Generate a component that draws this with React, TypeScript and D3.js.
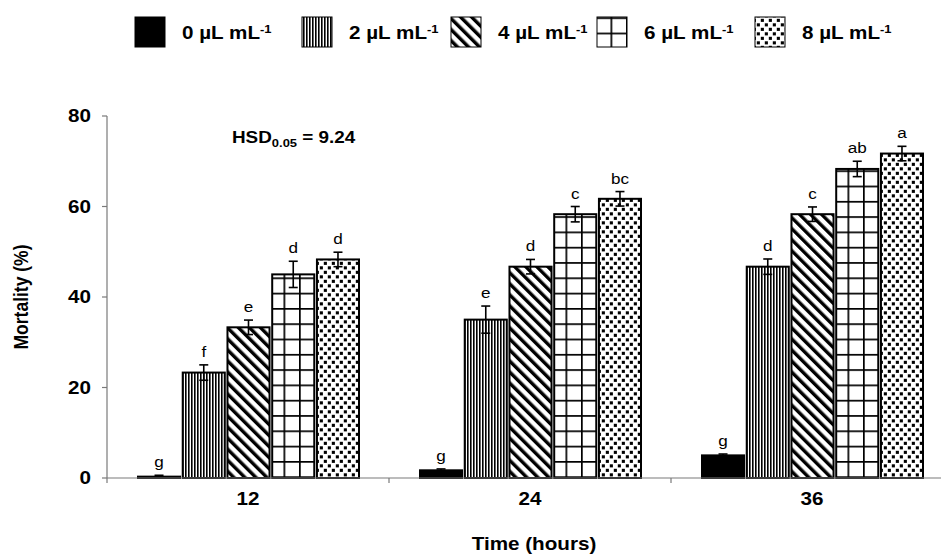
import React from "react"
import * as d3 from "d3"

// data
const groups = ["12", "24", "36"]
const series = ["0", "2", "4", "6", "8"]
const mean12 = [0.3, 23.3, 33.3, 45.0, 48.3]
const mean24 = [1.7, 35.0, 46.7, 58.3, 61.7]
const mean36 = [5.0, 46.7, 58.3, 68.3, 71.7]
const err12 = [0.3, 1.7, 1.6, 2.9, 1.6]
const err24 = [0.3, 3.0, 1.6, 1.7, 1.6]
const err36 = [0.3, 1.7, 1.6, 1.7, 1.6]
const letters12 = ["g", "f", "e", "d", "d"]
const letters24 = ["g", "e", "d", "c", "bc"]
const letters36 = ["g", "d", "c", "ab", "a"]
const yTicks = [0, 20, 40, 60, 80]

const means = [mean12, mean24, mean36]
const errs = [err12, err24, err36]
const letters = [letters12, letters24, letters36]

const fills = ["#000", "url(#vert)", "url(#diag)", "url(#grid)", "url(#dots)"]
const legendX = [135, 302, 451, 597, 755]

const W = 941
const H = 554
const left = 107
const font = "'Liberation Sans', Arial, sans-serif"
const k = 1.18 // the picture is a little wider than tall text would be

function T(props: any) {
  const { x, y, size, bold, anchor, rotate, children } = props
  const tr = rotate
    ? `translate(${x},${y}) rotate(-90) scale(1,${k})`
    : `translate(${x},${y}) scale(${k},1)`
  return (
    <text
      transform={tr}
      fontSize={size}
      fontWeight={bold ? "bold" : "normal"}
      textAnchor={anchor || "start"}
      fontFamily={font}
      fill="#000"
    >
      {children}
    </text>
  )
}

export default function App() {
  const x0 = d3.scaleBand().domain(groups).range([left, left + 3 * 282])
  const x1 = d3.scaleBand().domain(series).range([31, 252]).paddingInner(0.06)
  const y = d3.scaleLinear().domain([0, 80]).range([478, 116])
  const bw = x1.bandwidth()

  return (
    <svg width={W} height={H} style={{ position: "absolute", left: 0, top: 0 }}>
      <defs>
        <pattern id="vert" patternUnits="userSpaceOnUse" width={3} height={10}>
          <rect width={3} height={10} fill="#fff" />
          <rect x={0} width={1.6} height={10} fill="#000" />
        </pattern>
        <pattern id="diag" patternUnits="userSpaceOnUse" width={7.8} height={20} patternTransform="rotate(-45)">
          <rect width={7.8} height={20} fill="#fff" />
          <rect x={0} width={3.4} height={20} fill="#000" />
        </pattern>
        <pattern id="grid" patternUnits="userSpaceOnUse" width={15.5} height={15.3} x={6} y={2}>
          <rect width={15.5} height={15.3} fill="#fff" />
          <rect x={0} width={1.7} height={15.3} fill="#000" />
          <rect y={0} width={15.5} height={1.7} fill="#000" />
        </pattern>
        <pattern id="dots" patternUnits="userSpaceOnUse" width={8} height={9}>
          <rect width={8} height={9} fill="#fff" />
          <rect x={0.8} y={0.8} width={3.1} height={3.1} fill="#000" />
          <rect x={4.8} y={5.3} width={3.1} height={3.1} fill="#000" />
        </pattern>
      </defs>

      {/* legend */}
      {series.map((s, i) => (
        <g key={s}>
          <rect x={legendX[i]} y={17} width={30} height={30} fill={fills[i]} stroke="#000" strokeWidth={1} />
          <T x={legendX[i] + 47} y={39} size={17.5} bold>
            {s + " \u00b5L mL"}
            <tspan dy={-6} fontSize={11}>-1</tspan>
          </T>
        </g>
      ))}

      {/* bars */}
      {groups.map((g, gi) => (
        <g key={g} transform={`translate(${x0(g)},0)`}>
          {series.map((s, si) => {
            const v = means[gi][si]
            const e = errs[gi][si]
            const bx = x1(s)!
            const cx = bx + bw / 2
            return (
              <g key={s}>
                <rect
                  x={bx}
                  y={y(v)}
                  width={bw}
                  height={y(0) - y(v)}
                  fill={fills[si]}
                  stroke="#000"
                  strokeWidth={2}
                />
                <line x1={cx} x2={cx} y1={y(v - e)} y2={y(v + e)} stroke="#000" strokeWidth={1.6} />
                <line x1={cx - 4.5} x2={cx + 4.5} y1={y(v + e)} y2={y(v + e)} stroke="#000" strokeWidth={1.6} />
                <line x1={cx - 4.5} x2={cx + 4.5} y1={y(v - e)} y2={y(v - e)} stroke="#000" strokeWidth={1.6} />
                <T x={cx} y={y(v + e) - 8} size={14.5} anchor="middle">
                  {letters[gi][si]}
                </T>
              </g>
            )
          })}
        </g>
      ))}

      {/* y axis */}
      <line x1={left} x2={left} y1={y(80)} y2={y(0)} stroke="#7a7a7a" strokeWidth={1.2} />
      {yTicks.map((t) => (
        <g key={t}>
          <line x1={left - 5} x2={left} y1={y(t)} y2={y(t)} stroke="#7a7a7a" strokeWidth={1.2} />
          <T x={91} y={y(t) + 6.4} size={17.5} bold anchor="end">
            {t}
          </T>
        </g>
      ))}

      {/* x axis */}
      <line x1={left} x2={W} y1={y(0)} y2={y(0)} stroke="#7a7a7a" strokeWidth={1.2} />
      {groups.map((g) => (
        <g key={g}>
          <line x1={x0(g)!} x2={x0(g)!} y1={y(0)} y2={y(0) + 5} stroke="#7a7a7a" strokeWidth={1.2} />
          <T x={x0(g)! + x0.bandwidth() / 2} y={505} size={17.5} bold anchor="middle">
            {g}
          </T>
        </g>
      ))}

      <T x={534} y={550} size={17.5} bold anchor="middle">
        Time (hours)
      </T>
      <T x={28} y={297} size={17.5} bold anchor="middle" rotate>
        Mortality (%)
      </T>

      <T x={232} y={143} size={16} bold>
        HSD
        <tspan dy={4} fontSize={11}>0.05</tspan>
        <tspan dy={-4}> = 9.24</tspan>
      </T>
    </svg>
  )
}
